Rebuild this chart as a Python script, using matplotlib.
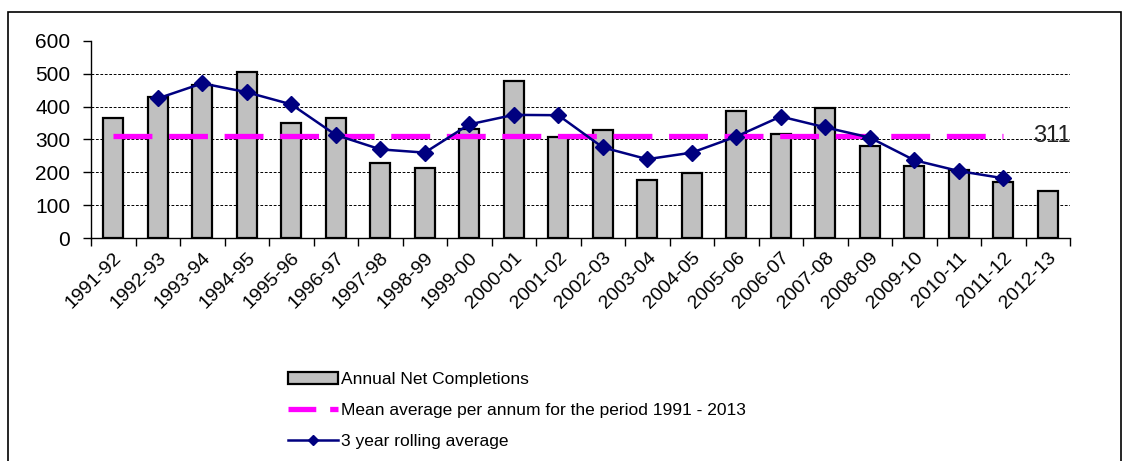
import matplotlib.pyplot as plt
import numpy as np
from matplotlib.patches import Rectangle
from matplotlib.lines import Line2D

plt.rcParams['font.family'] = ['Liberation Sans', 'DejaVu Sans']
plt.rcParams['lines.scale_dashes'] = False

# -----------------------------
# data
# -----------------------------
years = ["1991-92", "1992-93", "1993-94", "1994-95", "1995-96", "1996-97",
         "1997-98", "1998-99", "1999-00", "2000-01", "2001-02", "2002-03",
         "2003-04", "2004-05", "2005-06", "2006-07", "2007-08", "2008-09",
         "2009-10", "2010-11", "2011-12", "2012-13"]
completions = [364, 430, 466, 506, 349, 364, 227, 214, 331, 477, 309, 328,
               178, 199, 387, 317, 395, 279, 219, 207, 171, 144]
# rolling average has no value for the first and last year
rolling = [None, 425, 471, 444, 407, 314, 270, 260, 346, 375, 374, 276,
           240, 260, 309, 370, 337, 306, 237, 204, 182, None]
mean_value = 311

x = np.arange(len(years))
roll_x = [i for i, v in zip(x, rolling) if v is not None]
roll_y = [v for v in rolling if v is not None]

fig = plt.figure(figsize=(11.3, 4.61), dpi=100)

# outer frame
fig.patches.append(Rectangle((8 / 1130, -0.1), (1121 - 8) / 1130, 1.1 - 12 / 461,
                             transform=fig.transFigure, fill=False,
                             edgecolor='black', linewidth=1.2))

ax = fig.add_axes([91 / 1130, 1 - 238 / 461, (1070 - 91) / 1130, (238 - 41) / 461])

bars = ax.bar(x, completions, width=0.44, color='#c0c0c0', edgecolor='black',
              linewidth=1.6, zorder=2, label='Annual Net Completions')

ax.plot(x[:-1], [mean_value] * (len(x) - 1), color='#ff00ff',
        linewidth=3.8, dashes=(28, 12), zorder=3)
ax.plot(roll_x, roll_y, color='#000080', linewidth=1.8,
        marker='D', markersize=8, zorder=4)

ax.text(len(x) - 0.9, mean_value, str(mean_value), fontsize=17, ha='center',
        va='center', color='#222222', zorder=5)

ax.set_xlim(-0.5, len(x) - 0.5)
ax.set_ylim(0, 600)
ax.set_yticks(range(0, 601, 100))
for g in range(100, 600, 100):
    ax.axhline(g, color='black', linewidth=0.7, linestyle=(0, (2, 1.2)), zorder=1)

ax.set_xticks(x)
ax.set_xticklabels(years, rotation=45, ha='right', rotation_mode='anchor',
                   fontsize=14)
ax.set_xticks(np.arange(-0.5, len(x), 1), minor=True)
ax.tick_params(axis='x', which='major', length=0, pad=8)
ax.tick_params(axis='x', which='minor', length=6, width=1)
ax.tick_params(axis='y', length=6, width=1, labelsize=15, pad=9)

for side in ['top', 'right']:
    ax.spines[side].set_visible(False)
ax.spines['left'].set_linewidth(1)
ax.spines['bottom'].set_linewidth(1)

# legend uses small-marker proxy for the rolling average, like the original
mean_proxy = Line2D([], [], color='#ff00ff', linewidth=3.8, dashes=(20, 10))
roll_proxy = Line2D([], [], color='#000080', linewidth=1.8, marker='D',
                    markersize=5)
fig.legend(handles=[bars, mean_proxy, roll_proxy],
           labels=['Annual Net Completions',
                   'Mean average per annum for the period 1991 - 2013',
                   '3 year rolling average'],
           loc='upper left', bbox_to_anchor=(281 / 1130, 1 - 365 / 461),
           frameon=False, fontsize=12.5, handlelength=2.9, handletextpad=0.15,
           labelspacing=0.9, borderaxespad=0)

fig.savefig('out.png', dpi=100)
